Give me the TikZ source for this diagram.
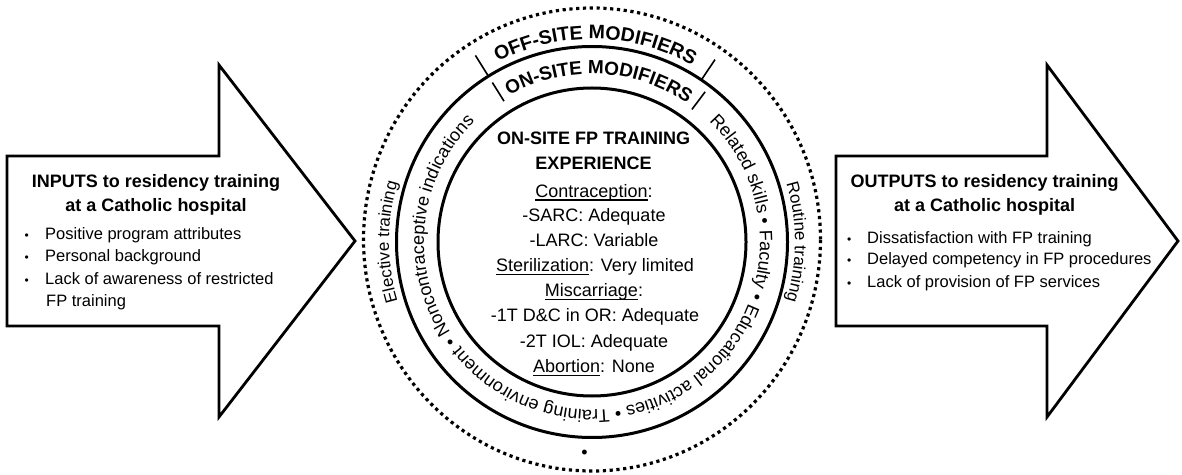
\documentclass[tikz,border=0pt]{standalone}
\usepackage{fontspec}
\setmainfont{Liberation Sans}
\usetikzlibrary{decorations.text}
\newcommand\myul[1]{\setbox0\hbox{#1}\rlap{\rule[-3.4pt]{\wd0}{1.3pt}}\box0}
\begin{document}
\begin{tikzpicture}[x=1pt,y=1pt,
  bigarrow/.style={draw, line width=2.8pt, fill=white, line join=miter, miter limit=10},
  ringline/.style={line width=3pt},
  dotline/.style={line width=3.2pt, dash pattern=on 3.2pt off 3.6pt},
  sepline/.style={line width=1.6pt},
  titletext/.style={font=\fontsize{18}{20}\selectfont\bfseries, anchor=base, inner sep=0pt},
  itemtext/.style={font=\fontsize{16.5}{19}\selectfont, anchor=base west, inner sep=0pt},
  bultext/.style={font=\fontsize{12}{14}\selectfont, anchor=base, inner sep=0pt},
  ctext/.style={font=\fontsize{18}{20}\selectfont, anchor=base, inner sep=0pt},
  cbold/.style={font=\fontsize{18}{20}\selectfont\bfseries, anchor=base, inner sep=0pt},
  ringdot/.style={font=\fontsize{18}{20}\selectfont, inner sep=0pt}
]
\useasboundingbox (0,0) rectangle (1182,474);
\fill[white] (0,0) rectangle (1182,474);

% ---- arrows
\draw[bigarrow] (7,318) -- (219,318) -- (219,409) -- (355,233) -- (219,57) -- (219,148) -- (7,148) -- cycle;
\draw[bigarrow] (836,318) -- (1047,318) -- (1047,409) -- (1178,233) -- (1047,57) -- (1047,148) -- (836,148) -- cycle;

% ---- circles
\coordinate (C) at (592,232);
\coordinate (D) at (592,234.5);
\draw[ringline] (C) circle[radius=154pt];
\draw[ringline] (C) circle[radius=195.5pt];
\draw[dotline] (D) ellipse[x radius=228.5pt, y radius=231.5pt];

% ---- separators
\draw[sepline] ([shift={(122:196pt)}]C) -- ([shift={(122:220pt)}]C);
\draw[sepline] ([shift={(56:196pt)}]C) -- ([shift={(56:220pt)}]C);
\draw[sepline] ([shift={(122:166pt)}]C) -- ([shift={(122:188pt)}]C);
\draw[sepline] ([shift={(53:166pt)}]C) -- ([shift={(53:188pt)}]C);

% ---- ring texts
\path[decorate, decoration={text along path, text align=center,
  text={|\fontsize{19.5}{22}\selectfont\bfseries|OFF-SITE MODIFIERS}}]
  ([shift={(129:203pt)}]C) arc[start angle=129, end angle=49, radius=203pt];
\path[decorate, decoration={text along path, text align=center,
  text={|\fontsize{19}{22}\selectfont\bfseries|ON-SITE MODIFIERS}}]
  ([shift={(127.5:168pt)}]C) arc[start angle=127.5, end angle=47.5, radius=168pt];
\path[decorate, decoration={text along path, text align=center,
  text={|\fontsize{17}{20}\selectfont|Routine training}}]
  ([shift={(40:203pt)}]C) arc[start angle=40, end angle=-40, radius=203pt];
\path[decorate, decoration={text along path, text align=center,
  text={|\fontsize{17}{20}\selectfont|Elective training}}]
  ([shift={(220:203pt)}]C) arc[start angle=220, end angle=140, radius=203pt];
\path[decorate, decoration={text along path, text align=center,
  text={|\fontsize{18}{20}\selectfont|Related skills • Faculty • Educational activities • Training environment • Noncontraceptive indications}}]
  ([shift={(49:168pt)}]C) arc[start angle=49, end angle=-229, radius=168pt];
\node[ringdot] (obul) at ([shift={(-92:212pt)}]C) {•};

% ---- left arrow text
\node[titletext] (inA) at (156,286.3) {INPUTS to residency training};
\node[titletext] (inB) at (156,262.3) {at a Catholic hospital};
\node[bultext] (ib1) at (26.7,234) {•};
\node[itemtext] (it1) at (45,234) {Positive program attributes};
\node[bultext] (ib2) at (26.7,212.3) {•};
\node[itemtext] (it2) at (45,212.3) {Personal background};
\node[bultext] (ib3) at (26.7,189.7) {•};
\node[itemtext] (it3) at (45,189.7) {Lack of awareness of restricted};
\node[itemtext] (it4) at (46,167.3) {FP training};

% ---- right arrow text
\node[titletext] (outA) at (984.6,286.3) {OUTPUTS to residency training};
\node[titletext] (outB) at (984.6,262.3) {at a Catholic hospital};
\node[bultext] (ob1) at (849.3,230.7) {•};
\node[itemtext] (ot1) at (867,230.7) {Dissatisfaction with FP training};
\node[bultext] (ob2) at (849.3,209) {•};
\node[itemtext] (ot2) at (867,209) {Delayed competency in FP procedures};
\node[bultext] (ob3) at (849.3,186.7) {•};
\node[itemtext] (ot3) at (867,186.7) {Lack of provision of FP services};

% ---- centre text
\node[cbold] (c1) at (593.5,329) {ON-SITE FP TRAINING};
\node[cbold] (c2) at (593.5,304.7) {EXPERIENCE};
\node[ctext] (c3) at (594,276.7) {\myul{Contraception}:};
\node[ctext] (c4) at (594,252.3) {-SARC: Adequate};
\node[ctext] (c5) at (594,227.3) {-LARC: Variable};
\node[ctext] (c6) at (595,202.3) {\myul{Sterilization}: Very limited};
\node[ctext] (c7) at (594,177.3) {\myul{Miscarriage}:};
\node[ctext] (c8) at (595,152.3) {-1T D\&C in OR: Adequate};
\node[ctext] (c9) at (594,126.3) {-2T IOL: Adequate};
\node[ctext] (c10) at (594,101.3) {\myul{Abortion}: None};
\end{tikzpicture}
\end{document}
